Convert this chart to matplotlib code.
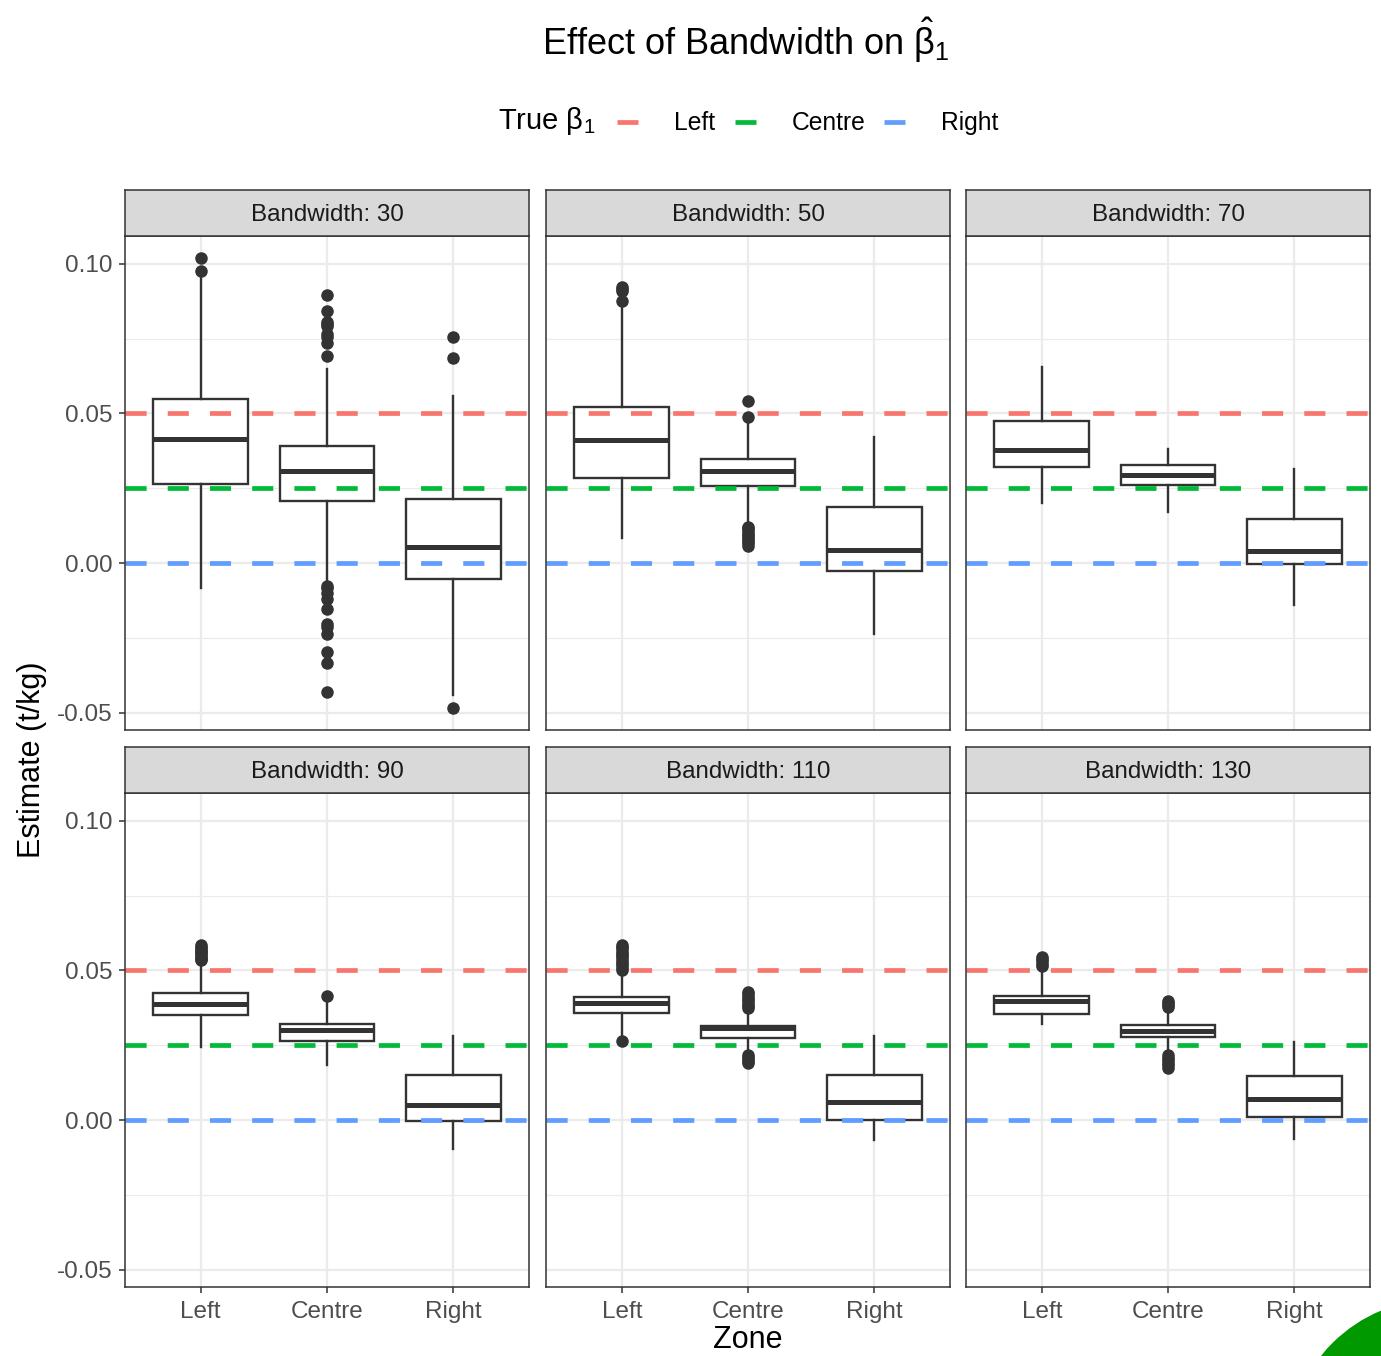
import matplotlib
matplotlib.use("Agg")
import matplotlib.pyplot as plt
from matplotlib.lines import Line2D
from matplotlib.patches import Ellipse

plt.rcParams["font.family"] = ["Liberation Sans", "DejaVu Sans"]
plt.rcParams["mathtext.fontset"] = "custom"
plt.rcParams["mathtext.rm"] = "Liberation Sans"
plt.rcParams["mathtext.it"] = "Liberation Sans"
plt.rcParams["mathtext.default"] = "regular"
plt.rcParams["lines.scale_dashes"] = False

# ---- data -------------------------------------------------------------
bandwidths = [30, 50, 70, 90, 110, 130]
zones = ["Left", "Centre", "Right"]
true_beta = [0.05, 0.025, 0.0]
true_colors = ["#F8766D", "#00BA38", "#619CFF"]

# per bandwidth: [Left, Centre, Right]
whisker_low = [
    [-0.0085, -0.0062, -0.0441],
    [0.0085, 0.0128, -0.0238],
    [0.0202, 0.0171, -0.0141],
    [0.0245, 0.0185, -0.0098],
    [0.0284, 0.0236, -0.0067],
    [0.0321, 0.0234, -0.0065],
]
lower_quartile = [
    [0.0264, 0.0208, -0.0055],
    [0.0285, 0.0259, -0.0026],
    [0.0320, 0.0260, -0.0004],
    [0.0350, 0.0265, -0.0002],
    [0.0357, 0.0273, 0.0000],
    [0.0353, 0.0277, 0.0011],
]
median = [
    [0.0414, 0.0308, 0.0052],
    [0.0410, 0.0309, 0.0043],
    [0.0378, 0.0293, 0.0039],
    [0.0387, 0.0301, 0.0049],
    [0.0392, 0.0307, 0.0059],
    [0.0397, 0.0298, 0.0069],
]
upper_quartile = [
    [0.0547, 0.0392, 0.0214],
    [0.0523, 0.0347, 0.0186],
    [0.0475, 0.0327, 0.0146],
    [0.0426, 0.0321, 0.0152],
    [0.0412, 0.0314, 0.0150],
    [0.0416, 0.0317, 0.0148],
]
whisker_high = [
    [0.0963, 0.0648, 0.0558],
    [0.0863, 0.0469, 0.0422],
    [0.0654, 0.0380, 0.0313],
    [0.0513, 0.0390, 0.0281],
    [0.0485, 0.0351, 0.0281],
    [0.0496, 0.0357, 0.0260],
]
outliers = [
    [
        [0.1019, 0.0977],
        [0.0896, 0.0843, 0.0806, 0.0800, 0.0793, 0.0766, 0.0757, 0.0735, 0.0692,
         -0.0077, -0.0085, -0.0101, -0.0120, -0.0155, -0.0204, -0.0214, -0.0237,
         -0.0299, -0.0333, -0.0431],
        [0.0755, 0.0687, -0.0486],
    ],
    [
        [0.0924, 0.0916, 0.0910, 0.0877],
        [0.0542, 0.0489, 0.0122, 0.0116, 0.0109, 0.0101, 0.0094, 0.0088, 0.0080,
         0.0073, 0.0066, 0.0058],
        [],
    ],
    [[], [], []],
    [
        [0.0584, 0.0579, 0.0572, 0.0566, 0.0561, 0.0555, 0.0549, 0.0543, 0.0538,
         0.0535],
        [0.0415],
        [],
    ],
    [
        [0.0584, 0.0578, 0.0571, 0.0563, 0.0556, 0.0548, 0.0541, 0.0533, 0.0526,
         0.0518, 0.0510, 0.0502, 0.0265],
        [0.0427, 0.0420, 0.0412, 0.0405, 0.0397, 0.0389, 0.0381, 0.0374,
         0.0217, 0.0211, 0.0204, 0.0197, 0.0190],
        [],
    ],
    [
        [0.0546, 0.0538, 0.0531, 0.0523, 0.0515],
        [0.0398, 0.0391, 0.0385, 0.0379,
         0.0217, 0.0209, 0.0200, 0.0191, 0.0183, 0.0175],
        [],
    ],
]

# ---- layout (pixels) --------------------------------------------------
W, H = 1381, 1356
fig = plt.figure(figsize=(W / 100, H / 100), dpi=100)
fig.patch.set_facecolor("white")


def px_rect(x0, y0, x1, y1):
    return [x0 / W, 1 - y1 / H, (x1 - x0) / W, (y1 - y0) / H]


col_x = [(125, 529), (546, 950), (966, 1370)]
row_y = [(190, 236, 730), (747, 793, 1287)]

dark = "#333333"
grid_col = "#EBEBEB"
ylim = (-0.05585, 0.10936)

for i, bw in enumerate(bandwidths):
    r, c = divmod(i, 3)
    x0, x1 = col_x[c]
    s0, p0, p1 = row_y[r]

    ax = fig.add_axes(px_rect(x0, p0, x1, p1))
    ax.set_facecolor("white")

    stats = []
    for z in range(3):
        stats.append(dict(
            whislo=whisker_low[i][z], q1=lower_quartile[i][z],
            med=median[i][z], q3=upper_quartile[i][z],
            whishi=whisker_high[i][z], fliers=outliers[i][z]))
    ax.bxp(stats, positions=[1, 2, 3], widths=0.75, showcaps=False,
           patch_artist=True, manage_ticks=False,
           boxprops=dict(facecolor="white", edgecolor=dark, linewidth=1.7),
           whiskerprops=dict(color=dark, linewidth=1.7),
           medianprops=dict(color=dark, linewidth=3.6, solid_capstyle="butt"),
           flierprops=dict(marker="o", markersize=8, markerfacecolor=dark,
                           markeredgecolor=dark, linestyle="none"),
           zorder=3)

    for val, col in zip(true_beta, true_colors):
        ax.axhline(val, color=col, lw=3.4, dashes=(15.2, 15.2),
                   solid_capstyle="butt", dash_capstyle="butt", zorder=4)

    ax.set_xlim(0.4, 3.6)
    ax.set_ylim(*ylim)
    ax.set_yticks([-0.05, 0.0, 0.05, 0.10])
    ax.set_yticks([-0.025, 0.025, 0.075], minor=True)
    ax.set_xticks([1, 2, 3])
    ax.grid(True, which="major", color=grid_col, lw=1.6, zorder=0)
    ax.grid(True, which="minor", axis="y", color=grid_col, lw=0.8, zorder=0)
    ax.set_axisbelow(True)
    for sp in ax.spines.values():
        sp.set_color(dark)
        sp.set_linewidth(1.1)
        sp.set_zorder(10)

    ax.tick_params(which="minor", length=0)
    ax.tick_params(which="major", color=dark, width=1.1, length=4,
                   labelcolor="#4D4D4D", labelsize=17.5, pad=5)
    ax.tick_params(axis="x", pad=6)
    if c == 0:
        ax.set_yticklabels(["-0.05", "0.00", "0.05", "0.10"])
    else:
        ax.tick_params(axis="y", length=0, labelleft=False)
    if r == 1:
        ax.set_xticklabels(zones)
    else:
        ax.tick_params(axis="x", length=0, labelbottom=False)

    # strip
    sax = fig.add_axes(px_rect(x0, s0, x1, p0))
    sax.set_facecolor("#D9D9D9")
    sax.set_xticks([])
    sax.set_yticks([])
    for sp in sax.spines.values():
        sp.set_color(dark)
        sp.set_linewidth(1.1)
    sax.text(0.5, 0.46, f"Bandwidth: {bw}", ha="center", va="center",
             fontsize=17.4, color="#1A1A1A", transform=sax.transAxes)

# ---- titles and labels --------------------------------------------------
fig.text(746 / W, 1 - 40 / H, r"Effect of Bandwidth on $\hat{\beta}_1$",
         ha="center", va="center", fontsize=26, color="black")
fig.text(32 / W, 1 - 760 / H, "Estimate (t/kg)", rotation=90,
         ha="center", va="center", fontsize=22, color="black")
fig.text(748 / W, 1 - 1348 / H, "Zone", ha="center", va="baseline",
         fontsize=22, color="black")

# legend
ly = 1 - 122 / H
fig.text(498 / W, 1 - 121 / H, r"True $\beta_1$", ha="left", va="center",
         fontsize=21, color="black")
key_x = [617, 735, 884]
for kx, col, lab in zip(key_x, true_colors, zones):
    fig.add_artist(Line2D([kx / W, (kx + 21) / W], [ly, ly], color=col,
                          lw=3.4, solid_capstyle="butt",
                          transform=fig.transFigure))
    fig.text((kx + 57) / W, 1 - 123 / H, lab, ha="left", va="center",
             fontsize=17.7, color="black")

# corner mark
fig.add_artist(Ellipse((1439 / W, 1 - 1450 / H), 2 * 151 / W, 2 * 151 / H,
                       transform=fig.transFigure, facecolor="#009900",
                       edgecolor="none", zorder=20))

fig.savefig("out.png", dpi=100, facecolor="white")
